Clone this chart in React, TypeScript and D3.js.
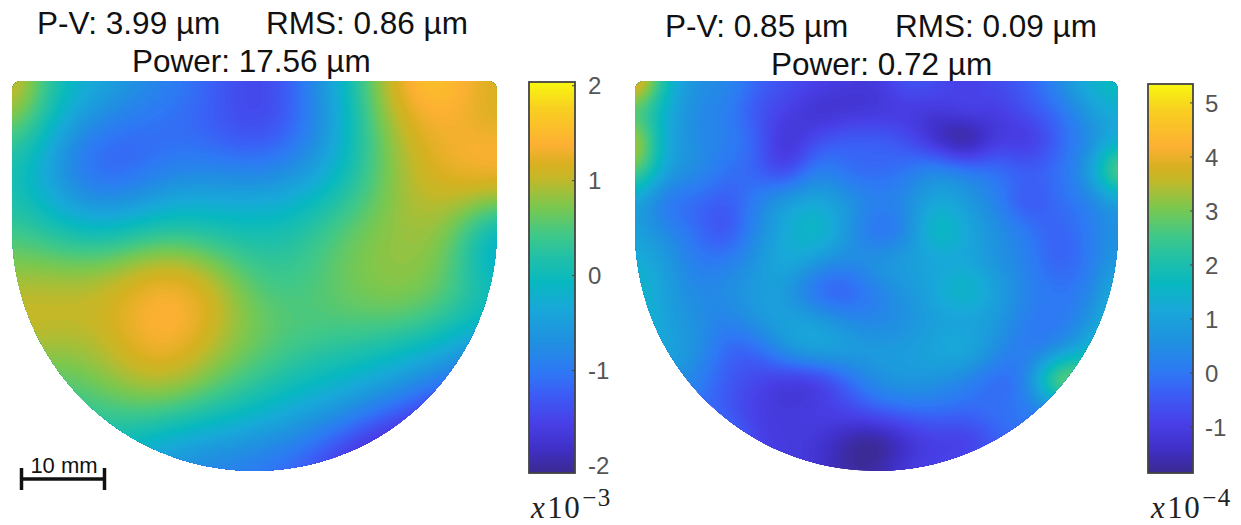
import React, { useMemo } from "react";
import * as d3 from "d3";

const colorStops = [0, 0.064, 0.13, 0.2, 0.258, 0.335, 0.422, 0.488, 0.55, 0.61, 0.678, 0.754, 0.788, 0.84, 0.934, 1];
const colorValues = ["#3a2a90", "#4030c8", "#4840e8", "#3c5cf5", "#2e78f5", "#2090e0", "#18a8d8", "#08b8c0", "#20c0a8", "#40c888", "#78c850", "#c4b828", "#d8b020", "#fdb033", "#f8d020", "#f8f810"];

const leftRange: [number, number] = [-2.08, 2.04];
const rightRange: [number, number] = [-1.85, 5.35];
const leftTicks = [-2, -1, 0, 1, 2];
const rightTicks = [-1, 0, 1, 2, 3, 4, 5];

const leftGrid = [
  [1.7, 0.3, -0.1, -0.2, -0.5, -0.8, -1.0, -1.3, -1.5, -1.35, -0.7, -0.05, 0.9, 1.45, 2.0, 1.35, 1.2],
  [1.2, 0.3, -0.3, -0.75, -1.0, -1.1, -1.15, -1.4, -1.65, -1.4, -0.95, -0.2, 0.7, 1.2, 1.45, 1.15, 1.0],
  [0.5, -0.1, -0.85, -1.15, -1.15, -1.1, -1.1, -1.25, -1.4, -1.2, -0.85, -0.1, 0.55, 1.05, 1.3, 1.45, 1.35],
  [0.25, -0.35, -1.05, -1.35, -1.25, -1.0, -0.9, -0.9, -0.95, -0.85, -0.55, 0, 0.5, 1.0, 1.2, 1.4, 1.5],
  [0.25, -0.2, -0.55, -0.85, -0.65, -0.3, -0.2, -0.25, -0.3, -0.2, 0, 0.3, 0.6, 0.95, 1.05, 0.95, 0.8],
  [0.45, 0.3, 0.05, -0.05, 0.1, 0.25, 0.1, 0.05, 0.05, 0.1, 0.3, 0.6, 0.75, 0.9, 0.85, 0.5, -0.6],
  [0.7, 0.7, 0.6, 0.65, 0.9, 1.1, 1.0, 0.65, 0.3, 0.3, 0.45, 0.7, 0.8, 0.85, 0.75, 0.35, -0.7],
  [1.0, 1.05, 1.05, 1.1, 1.25, 1.45, 1.3, 1.0, 0.55, 0.35, 0.5, 0.65, 0.75, 0.85, 0.65, 0.4, 0],
  [1.1, 1.1, 1.05, 1.05, 1.35, 1.55, 1.45, 1.0, 0.7, 0.6, 0.55, 0.55, 0.6, 0.55, 0.35, 0.1, -0.2],
  [0.9, 0.9, 0.8, 0.95, 1.25, 1.4, 1.15, 0.8, 0.65, 0.45, 0.3, 0.2, 0.1, -0.05, -0.2, -0.5, -0.8],
  [0.5, 0.5, 0.6, 0.75, 0.95, 1.05, 0.85, 0.55, 0.4, 0.1, -0.05, -0.1, -0.3, -0.6, -0.9, -1.3, -1.6],
  [0.2, 0.2, 0.3, 0.4, 0.5, 0.5, 0.3, 0.15, -0.1, -0.25, -0.4, -0.7, -1.05, -1.3, -1.7, -1.9, -2],
  [0.1, 0.1, 0.1, 0.1, -0.05, -0.25, -0.45, -0.5, -0.6, -0.8, -1.05, -1.4, -1.75, -2.0, -2.1, -2.1, -2.1],
  [-0.3, -0.3, -0.3, -0.3, -0.4, -0.8, -0.95, -1.05, -1.15, -1.25, -1.5, -1.85, -2.2, -2.2, -2.2, -2.2, -2.2],
];

const rightGrid = [
  [5.0, 1.9, 0.6, 0.5, -0.2, -0.6, -0.8, -1.0, -1.1, -0.4, -0.6, -1.1, -0.6, -0.4, 0.5, 1.5, 1.9],
  [2.6, 1.4, 0.4, 0.2, -0.6, -0.9, -1.4, -1.3, -1.25, -1.1, -1.2, -0.7, -1.1, -0.5, -0.2, 0.8, 1.4],
  [4.0, 1.2, 0.5, 0.2, -0.2, -1.4, -0.6, -0.3, -0.3, -0.6, -1.5, -2.2, -1.0, -1.3, -0.3, 0.3, 1.4],
  [3.2, 1.0, 0.6, -0.1, -0.3, -1.0, 0.3, -0.2, -0.3, 0, 0.6, 0.2, 0, -0.3, -0.1, 0.8, 3.6],
  [1.2, -0.1, -0.2, -0.5, 0.2, 1.0, 1.2, 0.8, 0.3, 0.5, 1.2, 0.8, 0.2, -0.7, -0.1, 0.1, 1.0],
  [1.1, 0.4, -0.1, -0.7, 0.4, 1.2, 1.8, 0.8, -0.3, 0.3, 2.0, 1.2, 0.6, 0.1, -0.4, 0.1, 0.7],
  [1.4, 0.9, 0.1, 0.1, 0.7, 1.4, 0.8, 0.5, 0.8, 1.0, 1.0, 1.1, 0.6, 0.2, -0.4, 0, 0.9],
  [1.7, 1.0, 0.4, 0.5, 0.9, 0.8, -0.3, -0.5, 0.2, 0.7, 1.3, 1.8, 1.0, 0.3, 0, 0.2, 1.6],
  [1.7, 1.0, 0.6, 0.2, 0.7, 1.1, 1.0, 0.5, 0.3, 0.6, 0.9, 0.9, 0.8, 0.1, 0, 0.6, 1.8],
  [1.7, 1.1, 0.7, -0.3, -0.3, 0.7, 1.2, 1.0, 0.9, 0.9, 1.2, 1.4, 0.5, 0, 0.5, 1.5, 2.6],
  [1.4, 0.9, 0.2, -0.4, -0.8, -1.2, -1.2, -0.3, 0.5, 0.8, 0.6, 0.2, -0.3, 0.3, 3.6, 3.0, 2.5],
  [0.8, 0.5, 0, -0.5, -1.0, -1.1, -0.9, -0.8, -0.4, -0.2, -0.1, -0.2, 0, 0, 0.3, 0.9, 0.5],
  [0, 0, 0, 0.2, -0.9, -1.1, -1.2, -1.7, -2.0, -1.4, -1.0, -1.1, -0.4, -0.1, -0.1, -0.1, -0.1],
  [-0.5, -0.5, -0.5, -0.5, -0.8, -1.0, -1.2, -1.7, -1.6, -1.0, -0.8, -0.6, -0.5, -0.5, -0.5, -0.5, -0.5],
];

const parula = d3.scaleLinear<string>().domain(colorStops).range(colorValues).interpolate(d3.interpolateRgb).clamp(true);

const cubic = (a: number, b: number, c: number, d: number, t: number) =>
  0.5 * (2 * b + (c - a) * t + (2 * a - 5 * b + 4 * c - d) * t * t + (3 * b - a - 3 * c + d) * t * t * t);

function upsample(grid: number[][], k: number) {
  const rows = grid.length, cols = grid[0].length;
  const at = (r: number, c: number) => grid[Math.max(0, Math.min(rows - 1, r))][Math.max(0, Math.min(cols - 1, c))];
  const w = (cols - 1) * k + 1, h = (rows - 1) * k + 1;
  const out = new Array(w * h);
  for (let j = 0; j < h; j++) {
    const r0 = Math.min(rows - 2, Math.floor(j / k)), tr = j / k - r0;
    for (let i = 0; i < w; i++) {
      const c0 = Math.min(cols - 2, Math.floor(i / k)), tc = i / k - c0;
      const q = [-1, 0, 1, 2].map((dr) =>
        cubic(at(r0 + dr, c0 - 1), at(r0 + dr, c0), at(r0 + dr, c0 + 1), at(r0 + dr, c0 + 2), tc)
      );
      out[j * w + i] = cubic(q[0], q[1], q[2], q[3], tr);
    }
  }
  return { values: out, w, h };
}

function maskPath(x0: number, x1: number, y0: number, y1: number) {
  const r = (x1 - x0) / 2, cx = (x0 + x1) / 2, cy = y1 - r, c = 11;
  const p = d3.path();
  p.moveTo(x0 + c, y0);
  p.lineTo(x1 - c, y0);
  p.quadraticCurveTo(x1, y0, x1, y0 + c);
  p.lineTo(x1, cy);
  p.arc(cx, cy, r, 0, Math.PI, false);
  p.lineTo(x0, y0 + c);
  p.quadraticCurveTo(x0, y0, x0 + c, y0);
  p.closePath();
  return p.toString();
}

function HeatMap({ id, grid, range, box, blur }: { id: string; grid: number[][]; range: [number, number]; box: number[]; blur: number }) {
  const [x0, x1, y0, y1] = box;
  const layers = useMemo(() => {
    const k = 6;
    const { values, w, h } = upsample(grid, k);
    d3.blur2({ data: values, width: w, height: h }, blur);
    const n = 140;
    const step = (range[1] - range[0]) / n;
    const thresholds = d3.range(n).map((i) => range[0] + i * step);
    thresholds[0] = Math.min(thresholds[0], (d3.min(values) as number) - 1);
    const xs = d3.scaleLinear().domain([0.5, w - 0.5]).range([x0, x1]);
    const ys = d3.scaleLinear().domain([0.5, h - 0.5]).range([y0, y1]);
    const proj = d3.geoTransform({
      point(x: number, y: number) {
        (this as any).stream.point(xs(x), ys(y));
      },
    });
    const geo = d3.geoPath(proj);
    const contours = d3.contours().size([w, h]).smooth(true).thresholds(thresholds)(values);
    const tScale = d3.scaleLinear().domain(range).range([0, 1]);
    return contours.map((c, i) => ({
      d: geo(c as any) as string,
      fill: parula(tScale(range[0] + (i + 0.5) * step)),
    }));
  }, [grid]);
  return (
    <g>
      <clipPath id={id}>
        <path d={maskPath(x0, x1, y0, y1)} />
      </clipPath>
      <g clipPath={`url(#${id})`}>
        {layers.map((l, i) => (
          <path key={i} d={l.d} fill={l.fill} stroke="none" />
        ))}
      </g>
    </g>
  );
}

function ColorBar({ x, w, y0, y1, range, ticks, labelX }: { x: number; w: number; y0: number; y1: number; range: [number, number]; ticks: number[]; labelX: number }) {
  const y = d3.scaleLinear().domain(range).range([y1, y0]);
  const t = d3.scaleLinear().domain([y1, y0]).range([0, 1]);
  const rows = d3.range(y0, y1);
  return (
    <g>
      {rows.map((py) => (
        <rect key={py} x={x} y={py} width={w} height={1.2} fill={parula(t(py + 0.5))} />
      ))}
      <rect x={x} y={y0} width={w} height={y1 - y0} fill="none" stroke="#444" strokeWidth={1.8} />
      {ticks.map((v) => (
        <g key={v}>
          <line x1={x + w - 3} x2={x + w} y1={y(v)} y2={y(v)} stroke="#444" strokeWidth={1} />
          <text x={labelX} y={y(v)} dy="0.36em" fontSize={24} fill="#555" fontFamily="'Liberation Sans', Arial, sans-serif">
            {v}
          </text>
        </g>
      ))}
    </g>
  );
}

const sans = "'Liberation Sans', Arial, sans-serif";
const heading = { fontSize: 31.5, fill: "#111", fontFamily: sans };

function Multiplier({ x, y, exp }: { x: number; y: number; exp: string }) {
  return (
    <text x={x} y={y} fontFamily="'Liberation Serif', 'DejaVu Serif', serif" fontSize={31} fill="#222" letterSpacing={1.5}>
      <tspan fontStyle="italic">x</tspan>
      <tspan dx={1}>10</tspan>
      <tspan dx={1} dy={-12} fontSize={25}>{exp}</tspan>
    </text>
  );
}

export default function App() {
  return (
    <svg width={1241} height={525} style={{ position: "absolute", left: 0, top: 0, background: "#fff" }}>
      <text x={37} y={34} {...heading}>P-V: 3.99 µm</text>
      <text x={266} y={34} {...heading}>RMS: 0.86 µm</text>
      <text x={132} y={72} {...heading}>Power: 17.56 µm</text>
      <text x={665} y={37} {...heading}>P-V: 0.85 µm</text>
      <text x={895} y={37} {...heading}>RMS: 0.09 µm</text>
      <text x={771} y={75} {...heading}>Power: 0.72 µm</text>

      <HeatMap id="mapL" grid={leftGrid} range={leftRange} box={[12, 497, 81, 471]} blur={4} />
      <HeatMap id="mapR" grid={rightGrid} range={rightRange} box={[635, 1118, 81, 471]} blur={2} />

      <ColorBar x={529} w={46} y0={82} y1={473} range={leftRange} ticks={leftTicks} labelX={588} />
      <ColorBar x={1148} w={45} y0={84} y1={473} range={rightRange} ticks={rightTicks} labelX={1205} />

      <Multiplier x={531} y={518} exp="−3" />
      <Multiplier x={1151} y={518} exp="−4" />

      <g stroke="#111" strokeWidth={3.5}>
        <line x1={21} x2={105} y1={479} y2={479} />
        <line x1={21.5} x2={21.5} y1={468} y2={490} />
        <line x1={104.5} x2={104.5} y1={468} y2={490} />
      </g>
      <text x={64} y={473} textAnchor="middle" fontSize={22} fill="#111" fontFamily={sans}>10 mm</text>
    </svg>
  );
}
